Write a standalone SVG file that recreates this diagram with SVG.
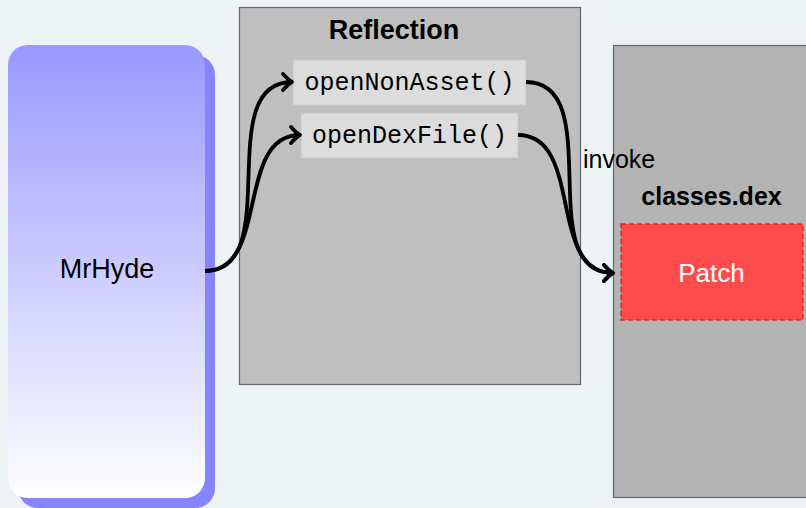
<svg xmlns="http://www.w3.org/2000/svg" width="806" height="508" viewBox="0 0 806 508">
  <defs>
    <linearGradient id="hydeFill" x1="0" y1="0" x2="0" y2="1">
      <stop offset="0" stop-color="#9999ff"/>
      <stop offset="1" stop-color="#ffffff"/>
    </linearGradient>
    <marker id="tip" markerUnits="userSpaceOnUse" markerWidth="24" markerHeight="24" viewBox="-14 -12 24 24" refX="0" refY="0" orient="auto" overflow="visible">
      <path d="M-9,-8 Q-3,-1.5 0,0 Q-3,1.5 -9,8" fill="none" stroke="#000" stroke-width="3.8" stroke-linecap="round" stroke-linejoin="round"/>
    </marker>
  </defs>
  <style>
    .sans { font-family: "Liberation Sans", Arial, sans-serif; }
    .mono { font-family: "Liberation Mono", "Courier New", monospace; font-size: 25px; fill: #000; }
    .title { font-weight: bold; fill: #000; }
    .container { stroke: #5f6b75; stroke-width: 1.2; }
    .method { fill: #dcdcdc; stroke: #c6c6c6; stroke-width: 1.5; stroke-dasharray: 5 3; }
    .link { fill: none; stroke: #000; stroke-width: 3.8; marker-end: url(#tip); }
  </style>

  <rect width="806" height="508" fill="#edf2f5"/>

  <!-- MrHyde node with offset shadow -->
  <g id="mrhyde">
    <rect x="18" y="55" width="197" height="453" rx="20" fill="#8585ff"/>
    <rect x="8" y="45" width="197" height="453" rx="20" fill="url(#hydeFill)"/>
    <text class="sans" x="107" y="278" font-size="27" text-anchor="middle" fill="#000">MrHyde</text>
  </g>

  <!-- Reflection container -->
  <g id="reflection">
    <rect class="container" x="239.5" y="7.5" width="341" height="377" fill="#bfbfbf"/>
    <text class="sans title" x="394" y="39" font-size="27" text-anchor="middle">Reflection</text>
  </g>

  <g id="openNonAsset">
    <rect class="method" x="293" y="60" width="233" height="45"/>
    <text class="mono" x="409.5" y="90" text-anchor="middle">openNonAsset()</text>
  </g>

  <g id="openDexFile">
    <rect class="method" x="301" y="113" width="217" height="45"/>
    <text class="mono" x="409.5" y="143" text-anchor="middle">openDexFile()</text>
  </g>

  <!-- classes.dex container -->
  <g id="classesdex">
    <rect class="container" x="613.5" y="45.5" width="200" height="452" fill="#b3b3b3"/>
    <text class="sans title" x="711.5" y="205" font-size="25" text-anchor="middle">classes.dex</text>
  </g>

  <g id="patch">
    <rect x="621" y="224" width="182" height="96" fill="#ff4c4c" stroke="#e22b2b" stroke-width="1.5" stroke-dasharray="5 3"/>
    <text class="sans" x="711.5" y="282" font-size="26" text-anchor="middle" fill="#ffffff">Patch</text>
  </g>

  <text id="invoke" class="sans" x="583" y="168" font-size="25" fill="#000">invoke</text>

  <!-- connectors -->
  <g id="connectors">
    <path class="link" d="M205,271 C286,271 211,82 292,82"/>
    <path class="link" d="M205,271 C270,271 235,135 300,135"/>
    <path class="link" d="M526,82 C608,82 531,273 613,273"/>
    <path class="link" d="M518,135 C584,135 547,273 613,273"/>
  </g>
</svg>
